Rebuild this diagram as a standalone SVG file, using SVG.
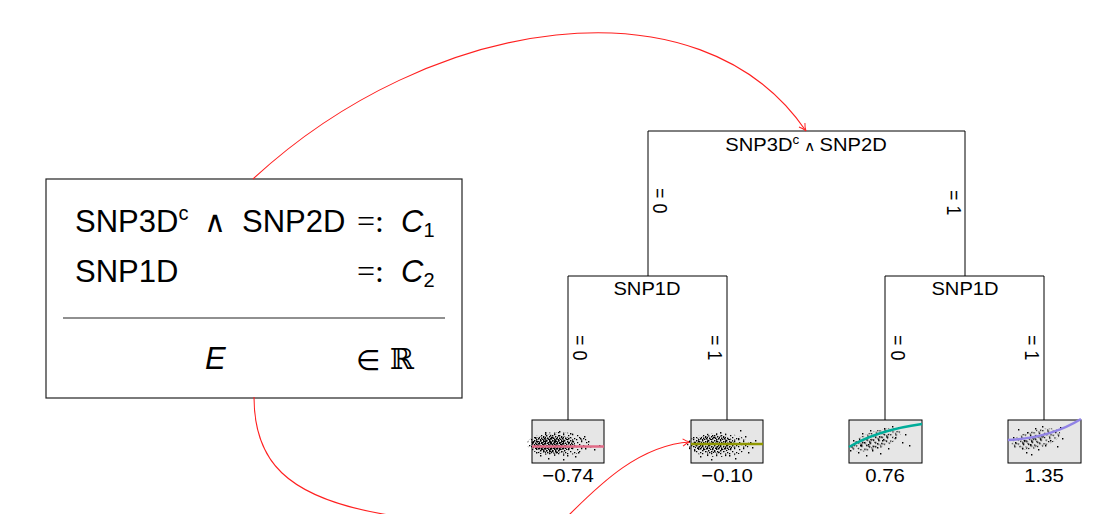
<svg xmlns="http://www.w3.org/2000/svg" width="1105" height="514" viewBox="0 0 1105 514">
<style>
.sans{font-family:"Liberation Sans",Arial,sans-serif;fill:#000}
.big{font-size:31px}
.tree{font-size:18px}
.leaf{font-size:18.5px}
.edge{fill:none;stroke:#000;stroke-width:1}
.red{fill:none;stroke:#ff2020;stroke-width:1.1}
.leafbox{fill:#e6e6e6;stroke:#000;stroke-width:1}
.dots{fill:#000}
.math{font-family:"DejaVu Sans",sans-serif}
</style>
<defs>
<marker id="arr" viewBox="0 0 10 10" refX="9" refY="5" markerWidth="9" markerHeight="9" markerUnits="userSpaceOnUse" orient="auto">
<path d="M1,1 Q5,4 9,5 Q5,6 1,9" fill="none" stroke="#ff2020" stroke-width="1.1"/>
</marker>
<pattern id="pd" width="6" height="5" patternUnits="userSpaceOnUse">
<path d="M0,0h1.4v1.4h-1.4z M3,1h1.4v1.4h-1.4z M1,2.5h1.4v1.4h-1.4z M4,3h1.4v1.4h-1.4z M2,4h1.4v1h-1.4z M5,1.8h1v1.4h-1z"/>
</pattern>
<pattern id="pd2" width="6" height="5" patternUnits="userSpaceOnUse" patternTransform="translate(2,2)">
<path d="M0,0h1.4v1.4h-1.4z M3,1h1.4v1.4h-1.4z M1,2.5h1.4v1.4h-1.4z M4,3h1.4v1.4h-1.4z M2,4h1.4v1h-1.4z"/>
</pattern>
<pattern id="ps" width="9" height="7" patternUnits="userSpaceOnUse">
<path d="M1,1h1.3v1.3h-1.3z M5,0h1.3v1.3h-1.3z M3,3h1.3v1.3h-1.3z M7,4h1.3v1.3h-1.3z M0,5h1.3v1.3h-1.3z M5,5.5h1.3v1.3h-1.3z"/>
</pattern>
</defs>

<g id="formula-box">
<rect x="46" y="179" width="416" height="219" fill="#fff" stroke="#222" stroke-width="1.2"/>
<line x1="63" y1="318" x2="445" y2="318" stroke="#222" stroke-width="1.2"/>
<text class="sans big" x="75" y="232">SNP3D<tspan font-size="20" dy="-12">c</tspan></text>
<text class="math" x="204" y="232" font-size="30">∧</text>
<text class="sans big" x="242" y="232">SNP2D</text>
<text x="357" y="232" style="font-family:'Liberation Serif',serif;font-size:32px">=:</text>
<text class="sans big" x="401" y="232" font-style="italic">C<tspan font-style="normal" font-size="20" dy="5">1</tspan></text>
<text class="sans big" x="75" y="282">SNP1D</text>
<text x="357" y="282" style="font-family:'Liberation Serif',serif;font-size:32px">=:</text>
<text class="sans big" x="401" y="282" font-style="italic">C<tspan font-style="normal" font-size="20" dy="5">2</tspan></text>
<text class="sans big" x="205" y="369" font-style="italic">E</text>
<text class="math" x="356" y="370" font-size="28">∈</text>
<text x="390" y="369" style="font-family:'DejaVu Serif',serif;font-size:29px">ℝ</text>
</g>

<g id="connectors">
<path class="edge" d="M648,276 V131 H965 V276"/>
<path class="edge" d="M568,420 V276 H727 V420"/>
<path class="edge" d="M885,420 V276 H1044 V420"/>
<text class="sans tree" transform="translate(653,188) scale(1.12,1) rotate(90)">= 0</text>
<text class="sans tree" transform="translate(947,190) scale(1.12,1) rotate(90)">= 1</text>
<text class="sans tree" transform="translate(573,335) scale(1.12,1) rotate(90)">= 0</text>
<text class="sans tree" transform="translate(708,335) scale(1.12,1) rotate(90)">= 1</text>
<text class="sans tree" transform="translate(891,335) scale(1.12,1) rotate(90)">= 0</text>
<text class="sans tree" transform="translate(1025,335) scale(1.12,1) rotate(90)">= 1</text>
<path class="red" d="M253,179 C430,15 700,-25 806,131" marker-end="url(#arr)"/>
<path class="red" d="M254,397 C254,460 285,497 383,514 C450,526 540,544 570,514 C600,484 640,445 690,442" marker-end="url(#arr)"/>
</g>

<g id="node-root">
<text class="sans tree" transform="translate(806,151) scale(1.12,1)" text-anchor="middle">SNP3D<tspan font-size="12" dy="-7">c</tspan><tspan font-size="14" dy="7"> ∧ </tspan>SNP2D</text>
</g>
<g id="node-left">
<text class="sans tree" transform="translate(647,295) scale(1.12,1)" text-anchor="middle">SNP1D</text>
</g>
<g id="node-right">
<text class="sans tree" transform="translate(965,295) scale(1.12,1)" text-anchor="middle">SNP1D</text>
</g>

<g id="leaf-1">
<rect class="leafbox" x="532" y="420" width="72" height="43"/>
<ellipse cx="558" cy="444" rx="31" ry="12" fill="url(#ps)"/>
<ellipse cx="553" cy="444" rx="22" ry="9.5" fill="url(#pd)"/>
<ellipse cx="551" cy="445" rx="15" ry="7" fill="url(#pd2)"/>
<path class="dots" d="M535,437h1.4v1.4h-1.4z M536,452h1.4v1.4h-1.4z M534,445h1.4v1.4h-1.4z M580,438h1.4v1.4h-1.4z M585,448h1.4v1.4h-1.4z M590,446h1.4v1.4h-1.4z M575,456h1.4v1.4h-1.4z M548,458h1.4v1.4h-1.4z M563,459h1.4v1.4h-1.4z M570,433h1.4v1.4h-1.4z M545,432h1.4v1.4h-1.4z M588,441h1.4v1.4h-1.4z M594,449h1.4v1.4h-1.4z M578,452h1.4v1.4h-1.4z M540,455h1.4v1.4h-1.4z M533,441h1.4v1.4h-1.4z M599,445h1.4v1.4h-1.4z M559,431h1.4v1.4h-1.4z M567,455h1.4v1.4h-1.4z M584,436h1.4v1.4h-1.4z"/>
<path d="M532,446.5 H604" stroke="#E16A86" stroke-width="2.6" fill="none"/>
<text class="sans leaf" transform="translate(568,482) scale(1.1,1)" text-anchor="middle">−0.74</text>
</g>

<g id="leaf-2">
<rect class="leafbox" x="691" y="420" width="72" height="43"/>
<ellipse cx="718" cy="445" rx="31" ry="12" fill="url(#ps)"/>
<ellipse cx="714" cy="444" rx="21" ry="9" fill="url(#pd)"/>
<path class="dots" d="M693,437h1.4v1.4h-1.4z M694,450h1.4v1.4h-1.4z M745,436h1.4v1.4h-1.4z M750,442h1.4v1.4h-1.4z M755,440h1.4v1.4h-1.4z M748,452h1.4v1.4h-1.4z M735,458h1.4v1.4h-1.4z M720,432h1.4v1.4h-1.4z M700,456h1.4v1.4h-1.4z M740,430h1.4v1.4h-1.4z M729,455h1.4v1.4h-1.4z M752,447h1.4v1.4h-1.4z M695,444h1.4v1.4h-1.4z M711,459h1.4v1.4h-1.4z M738,438h1.4v1.4h-1.4z"/>
<path d="M691,444 H763" stroke="#909800" stroke-width="2.6" fill="none"/>
<text class="sans leaf" transform="translate(727,482) scale(1.1,1)" text-anchor="middle">−0.10</text>
</g>

<g id="leaf-3">
<rect class="leafbox" x="849" y="420" width="73" height="43"/>
<ellipse cx="876" cy="440" rx="26" ry="9" transform="rotate(-18 876 440)" fill="url(#ps)"/>
<ellipse cx="874" cy="441" rx="16" ry="6" transform="rotate(-18 874 441)" fill="url(#ps)"/>
<path class="dots" d="M851,446h1.4v1.4h-1.4z M853,440h1.4v1.4h-1.4z M858,452h1.4v1.4h-1.4z M866,455h1.4v1.4h-1.4z M872,450h1.4v1.4h-1.4z M880,453h1.4v1.4h-1.4z M888,448h1.4v1.4h-1.4z M895,437h1.4v1.4h-1.4z M898,427h1.4v1.4h-1.4z M905,434h1.4v1.4h-1.4z M909,445h1.4v1.4h-1.4z M902,442h1.4v1.4h-1.4z M884,428h1.4v1.4h-1.4z M870,430h1.4v1.4h-1.4z M862,433h1.4v1.4h-1.4z M892,426h1.4v1.4h-1.4z M877,447h1.4v1.4h-1.4z M850,450h1.4v1.4h-1.4z M868,444h1.4v1.4h-1.4z M882,440h1.4v1.4h-1.4z M860,445h1.4v1.4h-1.4z"/>
<path d="M849,447 Q878,430 922,424" stroke="#00AD9A" stroke-width="2.6" fill="none"/>
<text class="sans leaf" transform="translate(885,482) scale(1.1,1)" text-anchor="middle">0.76</text>
</g>

<g id="leaf-4">
<rect class="leafbox" x="1008" y="420" width="73" height="43"/>
<ellipse cx="1036" cy="439" rx="25" ry="9" transform="rotate(-14 1036 439)" fill="url(#ps)"/>
<ellipse cx="1032" cy="441" rx="13" ry="5.5" transform="rotate(-14 1032 441)" fill="url(#ps)"/>
<path class="dots" d="M1013,437h1.4v1.4h-1.4z M1015,442h1.4v1.4h-1.4z M1018,429h1.4v1.4h-1.4z M1022,448h1.4v1.4h-1.4z M1026,452h1.4v1.4h-1.4z M1031,454h1.4v1.4h-1.4z M1038,449h1.4v1.4h-1.4z M1045,445h1.4v1.4h-1.4z M1050,440h1.4v1.4h-1.4z M1055,431h1.4v1.4h-1.4z M1060,427h1.4v1.4h-1.4z M1062,438h1.4v1.4h-1.4z M1042,426h1.4v1.4h-1.4z M1035,428h1.4v1.4h-1.4z M1048,432h1.4v1.4h-1.4z M1057,446h1.4v1.4h-1.4z M1027,432h1.4v1.4h-1.4z M1030,444h1.4v1.4h-1.4z M1024,440h1.4v1.4h-1.4z"/>
<path d="M1008,440 Q1050,438 1081,419" stroke="#9183E6" stroke-width="2.6" fill="none"/>
<text class="sans leaf" transform="translate(1044,482) scale(1.1,1)" text-anchor="middle">1.35</text>
</g>
</svg>
